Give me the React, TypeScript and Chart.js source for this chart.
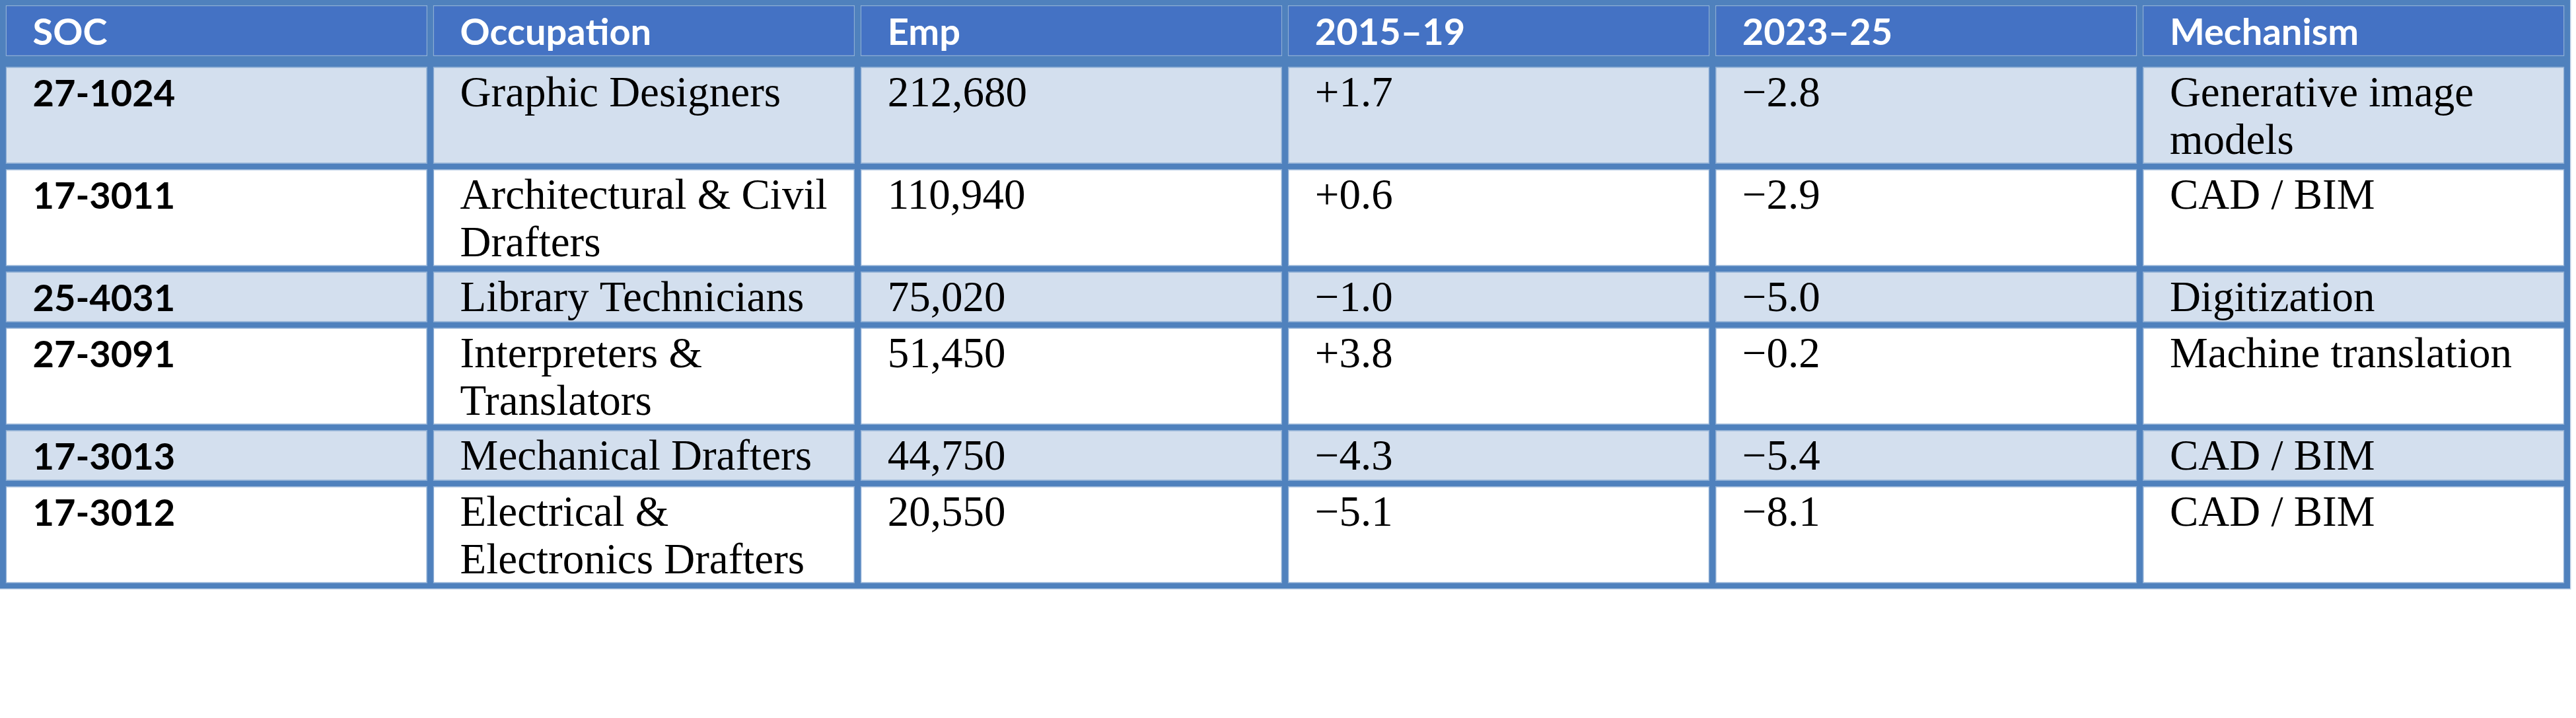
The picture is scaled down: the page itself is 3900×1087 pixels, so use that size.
import React, { useEffect, useRef } from "react";
import { Chart, registerables } from "chart.js";

Chart.register(...registerables);

// ---------- data ----------
const columnHeaders = ["SOC", "Occupation", "Emp", "2015–19", "2023–25", "Mechanism"];
const socCodes = ["27-1024", "17-3011", "25-4031", "27-3091", "17-3013", "17-3012"];
const occupations = [
  ["Graphic Designers"],
  ["Architectural & Civil", "Drafters"],
  ["Library Technicians"],
  ["Interpreters &", "Translators"],
  ["Mechanical Drafters"],
  ["Electrical &", "Electronics Drafters"],
];
const employment = [212680, 110940, 75020, 51450, 44750, 20550];
const change2015to19 = [1.7, 0.6, -1.0, 3.8, -4.3, -5.1];
const change2023to25 = [-2.8, -2.9, -5.0, -0.2, -5.4, -8.1];
const mechanisms = [
  ["Generative image", "models"],
  ["CAD / BIM"],
  ["Digitization"],
  ["Machine translation"],
  ["CAD / BIM"],
  ["CAD / BIM"],
];

// ---------- layout / style ----------
const W = 3900;
const H = 1087;
const PAD_LEFT = 4.25;
const PAD_RIGHT = 13.25;
const PAD_TOP = 4;
const V_BORDER = 8.5;
const H_BORDER = 8;
const HEADER_GAP = 16;
const HEADER_H = 77;
const LINE_H = 70;
const CELL_EXTRA = 7;
const TEXT_X = 41;
const BASELINE = 60;
const TEXT_STEP = 72;

const COLORS = {
  border: "#4F81BD",
  header: "#4472C4",
  band: "#D3DFEE",
  plain: "#FFFFFF",
  headerText: "#FFFFFF",
  text: "#000000",
};
const FONT_HEAD = "bold 56px Lato";
const FONT_SOC = "bold 56px Lato";
const FONT_BODY = '65px "Liberation Serif"';

const fmtEmp = (v: number) => v.toLocaleString("en-US");
const fmtChange = (v: number) => (v >= 0 ? "+" : "\u2212") + Math.abs(v).toFixed(1);

const tableRows: string[][][] = [
  columnHeaders.map((h) => [h]),
  ...socCodes.map((s, i) => [
    [s],
    occupations[i],
    [fmtEmp(employment[i])],
    [fmtChange(change2015to19[i])],
    [fmtChange(change2023to25[i])],
    mechanisms[i],
  ]),
];

export default function App() {
  const ref = useRef<HTMLCanvasElement | null>(null);

  useEffect(() => {
    if (!ref.current) return;
    const nCols = columnHeaders.length;

    // row extents in y-scale units
    let cursor = H_BORDER / 2;
    const rowBounds = tableRows.map((row, r) => {
      const lines = Math.max(...row.map((c) => c.length));
      const h = r === 0 ? HEADER_H : lines * LINE_H + CELL_EXTRA;
      const top = cursor;
      const bottom = cursor + h;
      cursor = bottom + (r === 0 ? HEADER_GAP : H_BORDER);
      return [top, bottom];
    });
    const TOTAL = cursor - H_BORDER / 2;

    const cells: { r: number; c: number; lines: string[] }[] = [];
    const points: { x: number; y: number[] }[] = [];
    const fills: string[] = [];
    tableRows.forEach((row, r) => {
      row.forEach((lines, c) => {
        cells.push({ r, c, lines });
        points.push({ x: c + 0.5, y: [rowBounds[r][0], rowBounds[r][1]] });
        fills.push(r === 0 ? COLORS.header : r % 2 === 1 ? COLORS.band : COLORS.plain);
      });
    });

    const pitch = (W - PAD_LEFT - PAD_RIGHT) / nCols;
    const barPercentage = (pitch - V_BORDER) / pitch;

    const tablePlugin = {
      id: "tablePlugin",
      beforeDatasetsDraw(chart: any) {
        const { ctx, chartArea } = chart;
        ctx.save();
        const l = chartArea.left - V_BORDER / 2;
        const t = chartArea.top - H_BORDER / 2;
        const w = chartArea.right - chartArea.left + V_BORDER;
        const h = chartArea.bottom - chartArea.top + H_BORDER;
        ctx.fillStyle = COLORS.border;
        ctx.fillRect(l, t, w, h);
        ctx.strokeStyle = "rgba(79,129,189,0.35)";
        ctx.lineWidth = 1.5;
        ctx.strokeRect(l - 0.75, t - 0.75, w + 1.5, h + 1.5);
        ctx.restore();
      },
      afterDatasetsDraw(chart: any) {
        const { ctx } = chart;
        const meta = chart.getDatasetMeta(0);
        ctx.save();
        ctx.textAlign = "left";
        ctx.textBaseline = "alphabetic";
        cells.forEach((cell, i) => {
          const el = meta.data[i];
          if (!el) return;
          const p = el.getProps(["x", "y", "base", "width"], true);
          const left = p.x - p.width / 2;
          const top = Math.min(p.y, p.base);
          if (cell.r === 0) {
            ctx.font = FONT_HEAD;
            ctx.fillStyle = COLORS.headerText;
          } else if (cell.c === 0) {
            ctx.font = FONT_SOC;
            ctx.fillStyle = COLORS.text;
          } else {
            ctx.font = FONT_BODY;
            ctx.fillStyle = COLORS.text;
          }
          cell.lines.forEach((line, k) => {
            ctx.fillText(line, left + TEXT_X, top + BASELINE + k * TEXT_STEP);
          });
        });
        ctx.restore();
      },
    };

    const chart = new Chart(ref.current, {
      type: "bar",
      data: {
        datasets: [
          {
            data: points as any,
            backgroundColor: fills,
            borderColor: "rgba(255,255,255,0.35)",
            borderWidth: 1.5,
            borderSkipped: false,
            categoryPercentage: 1,
            barPercentage,
            grouped: false,
          } as any,
        ],
      },
      options: {
        animation: false,
        responsive: true,
        maintainAspectRatio: false,
        events: [],
        layout: {
          padding: {
            left: PAD_LEFT,
            right: PAD_RIGHT,
            top: PAD_TOP,
            bottom: H - PAD_TOP - TOTAL,
          },
        },
        plugins: {
          legend: { display: false },
          tooltip: { enabled: false },
          title: { display: false },
        },
        scales: {
          x: {
            type: "linear",
            min: 0,
            max: nCols,
            offset: false,
            display: false,
            ticks: { stepSize: 1 },
            grid: { display: false },
          },
          y: {
            type: "linear",
            min: 0,
            max: TOTAL,
            reverse: true,
            display: false,
            grid: { display: false },
          },
        },
      },
      plugins: [tablePlugin],
    } as any);

    let alive = true;
    const fonts = (document as any).fonts;
    if (fonts && fonts.load) {
      Promise.all([fonts.load(FONT_HEAD), fonts.load(FONT_BODY)])
        .catch(() => null)
        .then(() => {
          if (alive) chart.draw();
        });
    }
    return () => {
      alive = false;
      chart.destroy();
    };
  }, []);

  return (
    <div
      style={{
        position: "fixed",
        left: 0,
        top: 0,
        width: W,
        height: H,
        background: "#FFFFFF",
      }}
    >
      <canvas ref={ref} />
    </div>
  );
}
